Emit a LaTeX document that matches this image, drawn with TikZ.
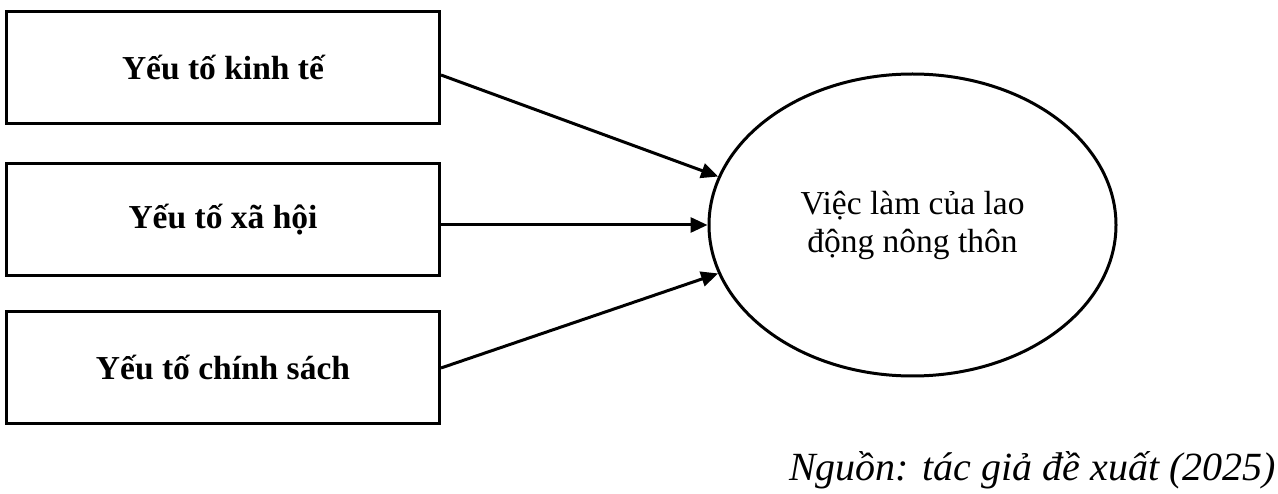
\documentclass[tikz,border=0pt]{standalone}
\usepackage{fontspec}
\setmainfont{Liberation Serif}
\usetikzlibrary{shapes.geometric,arrows.meta}
\tikzset{
  factor/.style={draw, line width=3pt, minimum width=433pt, minimum height=112pt, inner sep=0pt,
    font=\fontsize{33.5}{38}\selectfont\bfseries},
  target/.style={draw, ellipse, line width=3pt, minimum width=407pt, minimum height=302pt, inner sep=0pt,
    align=center, font=\fontsize{33.5}{38}\selectfont},
  link/.style={line width=3pt, -{Triangle[length=17pt,width=15pt]}},
  source/.style={font=\fontsize{40}{46}\selectfont\itshape, inner sep=0pt}
}
\begin{document}
\begin{tikzpicture}[x=1pt,y=-1pt]
\useasboundingbox (0,0) rectangle (1278,494);
\node[factor] (kt) at (223,68) {Yếu tố kinh tế};
\node[factor] (xh) at (223,220) {Yếu tố xã hội};
\node[factor] (cs) at (223,368) {Yếu tố chính sách};
\node[target] (vl) at (912.5,225) {Việc làm của lao\\động nông thôn};
\coordinate (a1) at (kt.east |- 0,75);
\coordinate (a2) at (xh.east |- 0,225);
\draw[link] (a1) -- (vl.166.5);
\draw[link] (a2) -- (vl.west |- a2);
\draw[link] (cs.east) -- (vl.194.4);
\node[source, anchor=base east] (src) at (1276,480) {Nguồn: tác giả đề xuất (2025)};
\end{tikzpicture}
\end{document}
